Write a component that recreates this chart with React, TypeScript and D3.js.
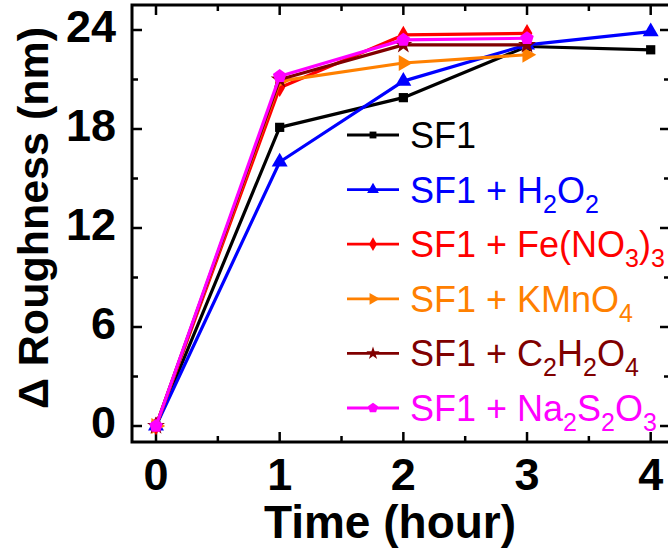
import React from "react";
import * as d3 from "d3";

const times = [0, 1, 2, 3, 4];
const sf1 = [0, 18.1, 19.9, 23.0, 22.8];
const sf1H2O2 = [0, 16.0, 20.9, 23.1, 23.9];
const sf1FeNO3 = [0, 20.5, 23.7, 23.8];
const sf1KMnO4 = [0, 20.9, 22.0, 22.5];
const sf1C2H2O4 = [0, 21.0, 23.1, 23.1];
const sf1Na2S2O3 = [0, 21.2, 23.4, 23.5];

// "_x" marks a subscript character
const labels = ["SF1", "SF1 + H_2O_2", "SF1 + Fe(NO_3)_3", "SF1 + KMnO_4", "SF1 + C_2H_2O_4", "SF1 + Na_2S_2O_3"];
const colors = ["#000000", "#0000ff", "#ff0000", "#ff8000", "#800000", "#ff00ff"];
const values = [sf1, sf1H2O2, sf1FeNO3, sf1KMnO4, sf1C2H2O4, sf1Na2S2O3];

const xTicks = [0, 1, 2, 3, 4];
const yTicks = [0, 6, 12, 18, 24];

const pentagon = {
  draw(ctx, size) {
    const r = Math.sqrt(size / 2.378);
    for (let i = 0; i < 5; i++) {
      const a = -Math.PI / 2 + (i * 2 * Math.PI) / 5;
      const px = r * Math.cos(a), py = r * Math.sin(a);
      if (i === 0) ctx.moveTo(px, py); else ctx.lineTo(px, py);
    }
    ctx.closePath();
  },
};

const markers = [
  { type: d3.symbolSquare, size: 85, rot: 0 },
  { type: d3.symbolTriangle, size: 110, rot: 0 },
  { type: d3.symbolDiamond, size: 100, rot: 0 },
  { type: d3.symbolTriangle, size: 110, rot: 90 },
  { type: d3.symbolStar, size: 100, rot: 0 },
  { type: pentagon, size: 120, rot: 0 },
];

function SubText({ text, x, y, color }) {
  const parts = [];
  let buf = "";
  for (let i = 0; i < text.length; i++) {
    if (text[i] === "_") {
      if (buf) parts.push({ t: buf, sub: false });
      buf = "";
      parts.push({ t: text[i + 1], sub: true });
      i++;
    } else buf += text[i];
  }
  if (buf) parts.push({ t: buf, sub: false });
  let prevSub = false;
  return (
    <text x={x} y={y} fill={color} style={{ fontSize: "36px", fontFamily: "Liberation Sans, Arial, sans-serif" }}>
      {parts.map((p, i) => {
        const dy = p.sub && !prevSub ? 10 : !p.sub && prevSub ? -10 : 0;
        prevSub = p.sub;
        return (
          <tspan key={i} dy={dy} style={{ fontSize: p.sub ? "25px" : "36px" }}>
            {p.t}
          </tspan>
        );
      })}
    </text>
  );
}

export default function App() {
  const width = 668, height = 555;
  const frame = { left: 132, right: 670, top: 5, bottom: 442 };

  const xScale = d3.scaleLinear().domain([0, 4]).range([156, 650.7]);
  const yScale = d3.scaleLinear().domain([0, 24]).range([426, 30]);

  const line = d3.line().x((d) => xScale(d[0])).y((d) => yScale(d[1]));

  const xMinor = d3.range(0, 4.01, 0.5).filter((v) => !xTicks.includes(v));
  const yMinor = d3.range(3, 24, 6);

  const bold = { fontFamily: "Liberation Sans, Arial, sans-serif", fontWeight: "bold" };

  const legendX = 347, legendY0 = 135, legendStep = 54.6;

  return (
    <svg width={width} height={height} style={{ position: "absolute", left: 0, top: 0 }}>
      <rect width={width} height={height} fill="white" />

      {/* ticks */}
      <g stroke="black" strokeWidth={2.5}>
        {xTicks.map((v) => (
          <g key={"xt" + v}>
            <path d={`M${xScale(v)},${frame.bottom} v-10`} />
            <path d={`M${xScale(v)},${frame.top} v10`} />
          </g>
        ))}
        {xMinor.map((v) => (
          <g key={"xm" + v}>
            <path d={`M${xScale(v)},${frame.bottom} v-6`} />
            <path d={`M${xScale(v)},${frame.top} v6`} />
          </g>
        ))}
        {yTicks.map((v) => (
          <g key={"yt" + v}>
            <path d={`M${frame.left},${yScale(v)} h10`} />
            <path d={`M${frame.right},${yScale(v)} h-10`} />
          </g>
        ))}
        {yMinor.map((v) => (
          <g key={"ym" + v}>
            <path d={`M${frame.left},${yScale(v)} h6`} />
            <path d={`M${frame.right},${yScale(v)} h-6`} />
          </g>
        ))}
      </g>

      {/* series */}
      {values.map((vals, i) => {
        const pts = vals.map((v, j) => [times[j], v]);
        const m = markers[i];
        const sym = d3.symbol().type(m.type).size(m.size);
        return (
          <g key={"s" + i}>
            <path d={line(pts)} stroke={colors[i]} strokeWidth={3.2} fill="none" strokeLinejoin="round" />
            {pts.map((p, j) => (
              <path key={j} d={sym()} fill={colors[i]} transform={`translate(${xScale(p[0])},${yScale(p[1])}) rotate(${m.rot})`} />
            ))}
          </g>
        );
      })}

      {/* frame */}
      <rect x={frame.left} y={frame.top} width={frame.right - frame.left} height={frame.bottom - frame.top} fill="none" stroke="black" strokeWidth={3} />

      {/* tick labels */}
      {yTicks.map((v) => (
        <text key={"yl" + v} x={116} y={yScale(v) + 12} textAnchor="end" style={{ ...bold, fontSize: "45px" }}>
          {v}
        </text>
      ))}
      {xTicks.map((v) => (
        <text key={"xl" + v} x={xScale(v)} y={490} textAnchor="middle" style={{ ...bold, fontSize: "45px" }}>
          {v}
        </text>
      ))}

      {/* axis titles */}
      <text x={390} y={538} textAnchor="middle" style={{ ...bold, fontSize: "46px" }}>
        Time (hour)
      </text>
      <text transform={`translate(48,218) rotate(-90)`} textAnchor="middle" style={{ ...bold, fontSize: "43px" }}>
        Δ Roughness (nm)
      </text>

      {/* legend */}
      {labels.map((lab, i) => {
        const y = legendY0 + i * legendStep;
        const m = markers[i];
        const sym = d3.symbol().type(m.type).size(m.size * 0.55);
        return (
          <g key={"lg" + i}>
            <path d={`M${legendX},${y} h52`} stroke={colors[i]} strokeWidth={2.8} />
            <path d={sym()} fill={colors[i]} transform={`translate(${legendX + 26},${y}) rotate(${m.rot})`} />
            <SubText text={lab} x={410} y={y + 13} color={colors[i]} />
          </g>
        );
      })}
    </svg>
  );
}
